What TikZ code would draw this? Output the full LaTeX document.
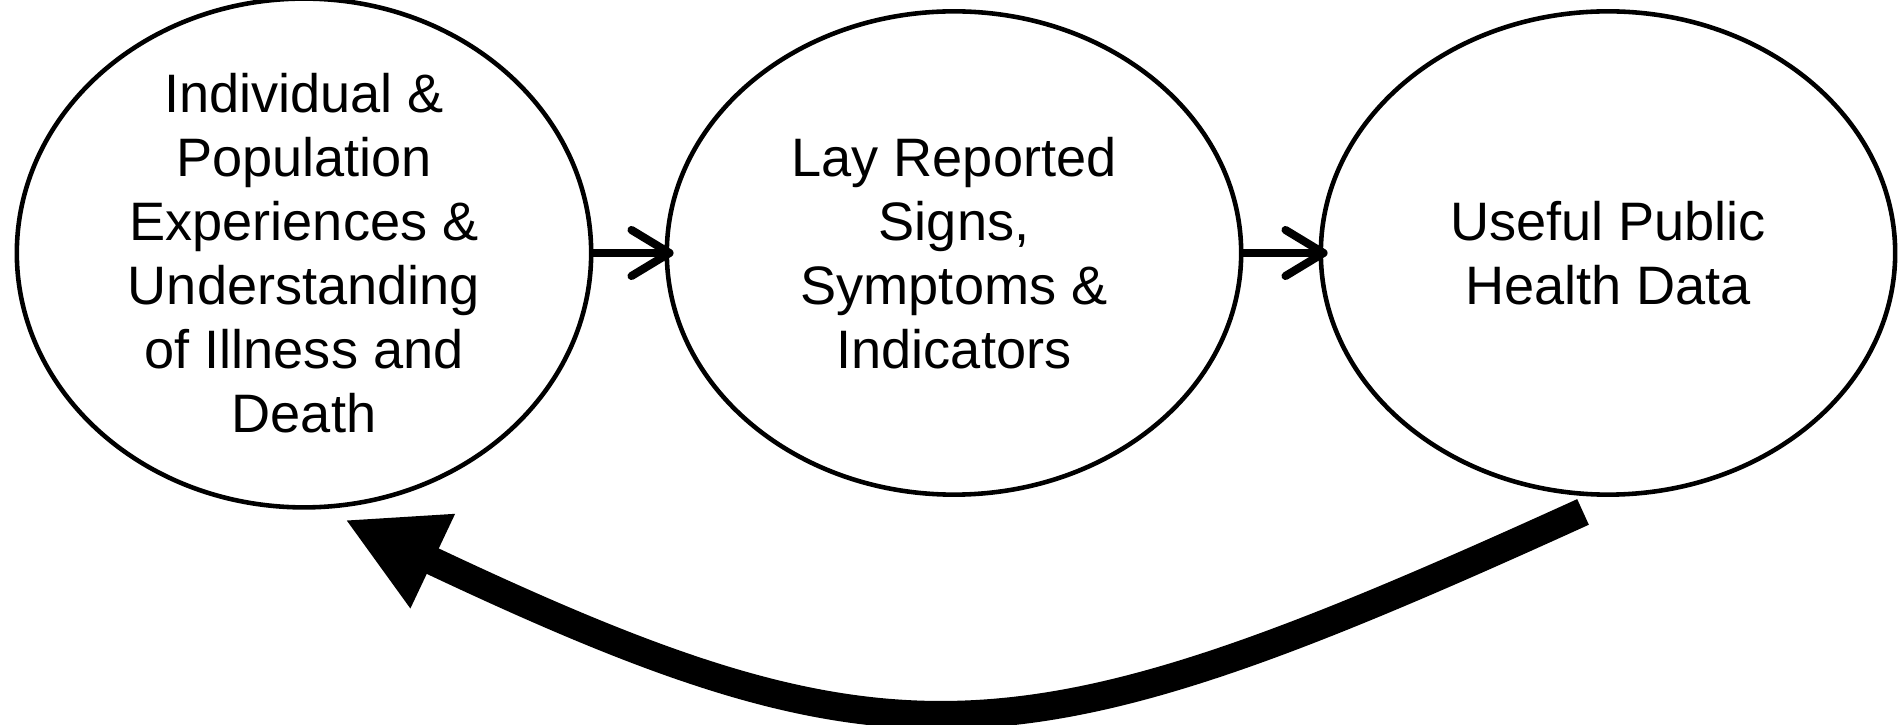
\documentclass[tikz,border=0pt]{standalone}
\usepackage{fontspec}
\setmainfont{Liberation Sans}
\usetikzlibrary{calc,arrows.meta,shapes.geometric}
\tikzset{
	stage/.style={ellipse, draw, line width=1.3pt, inner sep=0pt, minimum width=5.74cm, minimum height=4.83cm, align=center, font=\fontsize{15.4}{18.2}\selectfont},
	stepline/.style={line width=2.3pt, -{Straight Barb[length=0.38cm, width=0.46cm, round]}, shorten >=-0.09cm},
	feedback/.style={line width=8pt, -{Triangle[length=0.97cm, width=0.97cm]}}
}

\begin{document}
\begin{tikzpicture}[x=0.01cm, y=-0.01cm]
		%%%%% START %%%%%
		
		\useasboundingbox (0, 0) rectangle (1898, 725);
		
		\node[stage] (ill) at (304, 253) {Individual \&\\Population\\Experiences \&\\Understanding\\of Illness and\\Death};
		\node[stage] (lay) at (954, 253) {Lay Reported\\Signs,\\Symptoms \&\\Indicators};
		\node[stage] (data) at (1608, 253) {Useful Public\\Health Data};
		
		\draw[stepline] (ill.east) -- (lay.west);
		\draw[stepline] (lay.east) -- (data.west);
		
		\coordinate (fbstart) at ($(data.south)+(-25, 15)$);
		\coordinate (fbend) at ($(ill.south)+(41, 10)$);
		\draw[feedback] (fbstart) .. controls (1022, 767) and (898, 781) .. (fbend);
		
		%%%%% END %%%%%
	\end{tikzpicture}
\end{document}
